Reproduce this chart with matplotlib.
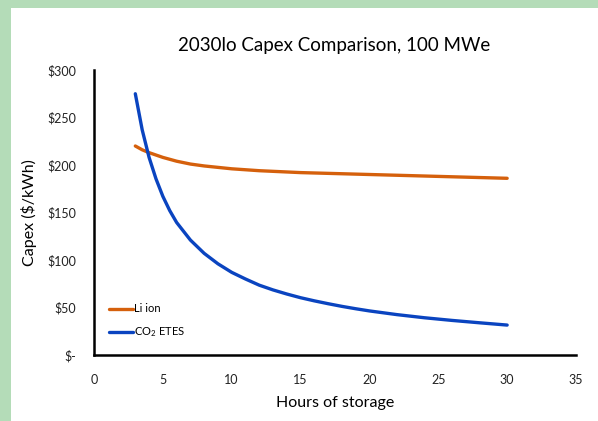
import matplotlib
matplotlib.use("Agg")
import matplotlib.pyplot as plt
from matplotlib.patches import Rectangle

plt.rcParams['font.family'] = ['Lato', 'DejaVu Sans']
plt.rcParams['mathtext.default'] = 'regular'

li_hours = [3, 3.5, 4, 5, 6, 7, 8, 10, 12, 15, 20, 25, 30]
li_capex = [220, 216, 213, 208, 204, 201, 199, 196, 194, 192, 190, 188, 186]

co2_hours = [3, 3.5, 4, 4.5, 5, 5.5, 6, 7, 8, 9, 10, 11, 12, 13, 14, 15, 16, 17, 18, 19,
             20, 22, 24, 26, 28, 30]
co2_capex = [275, 237, 208, 185.5, 167, 152, 139.5, 121, 107, 96, 87, 80, 73.5, 68.5, 64.2,
             60.3, 57, 54, 51.2, 48.7, 46.4, 42.5, 39.2, 36.4, 33.9, 31.5]

xticks = [0, 5, 10, 15, 20, 25, 30, 35]
yticks = [0, 50, 100, 150, 200, 250, 300]
ytick_labels = ['$-', '$50', '$100', '$150', '$200', '$250', '$300']

W, H = 598, 421
fig = plt.figure(figsize=(W / 100, H / 100), dpi=100)
fig.patch.set_facecolor('white')
green = '#b4dcb8'
fig.patches.append(Rectangle((0, 1 - 8 / H), 1, 8 / H, transform=fig.transFigure,
                             facecolor=green, edgecolor='none', zorder=-1))
fig.patches.append(Rectangle((0, 0), 11 / W, 1, transform=fig.transFigure,
                             facecolor=green, edgecolor='none', zorder=-1))

ax = fig.add_axes([94 / W, 1 - 355 / H, (576 - 94) / W, (355 - 70) / H])
ax.plot(li_hours, li_capex, color='#d5600c', lw=2.4, label='Li ion', solid_capstyle='round')
ax.plot(co2_hours, co2_capex, color='#0a44c0', lw=2.4, label=r'CO$_2$ ETES', solid_capstyle='round')

ax.set_xlim(0, 35)
ax.set_ylim(0, 300)
ax.set_xticks(xticks)
ax.set_yticks(yticks)
ax.set_yticklabels(ytick_labels)
ax.tick_params(axis='both', length=0, labelsize=9, colors='#222222')
ax.tick_params(axis='x', pad=14)
ax.tick_params(axis='y', pad=13)
for s in ['top', 'right']:
    ax.spines[s].set_visible(False)
for s in ['left', 'bottom']:
    ax.spines[s].set_linewidth(1.8)
    ax.spines[s].set_color('black')

ax.set_xlabel('Hours of storage', fontsize=11.5, labelpad=7)
ax.set_ylabel('Capex ($/kWh)', fontsize=11.5, labelpad=7)

leg = ax.legend(loc='lower left', bbox_to_anchor=(0.01, 0.02), frameon=False,
                fontsize=8, handlelength=2.2, handletextpad=0.1, labelspacing=1.0)

fig.text(334 / W, 1 - 45 / H, '2030lo Capex Comparison, 100 MWe', ha='center', va='center',
         fontsize=13.5)

fig.savefig('out.png', dpi=100)
